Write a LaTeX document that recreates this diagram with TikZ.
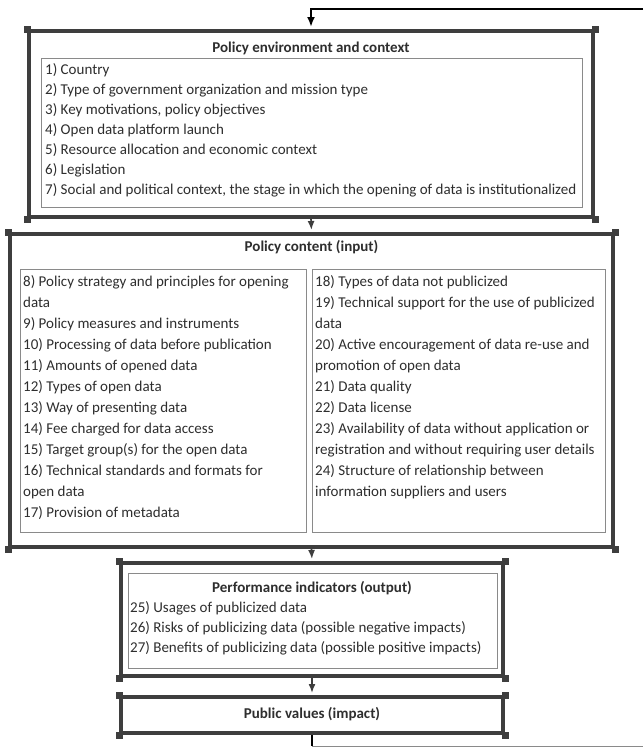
\documentclass[tikz,border=0pt]{standalone}
\usepackage{fontspec}
\setmainfont{Carlito}
\usepackage{tikz}
\usetikzlibrary{positioning, shapes, arrows, arrows.meta}

\definecolor{framegray}{HTML}{3E3E3E}
\definecolor{boxgray}{HTML}{8A8A8A}
\definecolor{textgray}{HTML}{2E2E2E}

\tikzset{
  frame/.style={draw=framegray, line width=4pt, rectangle, inner sep=0pt},
  listbox/.style={draw=boxgray, line width=0.9pt, rectangle, inner sep=0pt},
  titletext/.style={font=\bfseries\fontsize{15}{20}\selectfont, text=textgray, inner sep=0pt},
  itemtext/.style={align=left, font=\fontsize{15}{20}\selectfont, text=textgray, inner sep=0pt, anchor=north west},
  flow/.style={draw=framegray, line width=1.6pt, -{Latex[length=9pt,width=7pt]}, shorten >=2pt},
}

\begin{document}
\begin{tikzpicture}[x=1pt, y=-1pt]
      \useasboundingbox[fill=white] (0,0) rectangle (643,747);

      % policy environment
      \node [frame, minimum width=564pt, minimum height=186pt] (envframe) at (311,124) {};
      \node [titletext] (envtitle) at (311,48) {Policy environment and context};
      \node [listbox, minimum width=541pt, minimum height=149pt] (envlist) at (311.5,132.5) {};
      \node [itemtext] (envitems) at (45,63.5) {1) Country\\
        2) Type of government organization and mission type\\
        3) Key motivations, policy objectives\\
        4) Open data platform launch\\
        5) Resource allocation and economic context\\
        6) Legislation\\
        7) Social and political context, the stage in which the opening of data is institutionalized};

      % policy content
      \node [frame, minimum width=603pt, minimum height=313pt] (contentframe) at (311.5,390.5) {};
      \node [titletext] (contenttitle) at (311.5,247) {Policy content (input)};
      \node [listbox, minimum width=286pt, minimum height=263pt] (leftlist) at (163,400.5) {};
      \node [listbox, minimum width=293pt, minimum height=263pt] (rightlist) at (458.5,400.5) {};
      \node [itemtext, font=\fontsize{15}{21}\selectfont] (leftitems) at (23,275.5) {8) Policy strategy and principles for opening\\
        data\\
        9) Policy measures and instruments\\
        10) Processing of data before publication\\
        11) Amounts of opened data\\
        12) Types of open data\\
        13) Way of presenting data\\
        14) Fee charged for data access\\
        15) Target group(s) for the open data\\
        16) Technical standards and formats for\\
        open data\\
        17) Provision of metadata};
      \node [itemtext, font=\fontsize{15}{21}\selectfont] (rightitems) at (315,275.5) {18) Types of data not publicized\\
        19) Technical support for the use of publicized\\
        data\\
        20) Active encouragement of data re-use and\\
        promotion of open data\\
        21) Data quality\\
        22) Data license\\
        23) Availability of data without application or\\
        registration and without requiring user details\\
        24) Structure of relationship between\\
        information suppliers and users};

      % performance indicators
      \node [frame, minimum width=382pt, minimum height=113pt] (perfframe) at (312,619.5) {};
      \node [listbox, minimum width=369pt, minimum height=95pt] (perflist) at (312.5,620.5) {};
      \node [titletext] (perftitle) at (312,588) {Performance indicators (output)};
      \node [itemtext] (perfitems) at (130,601.5) {25) Usages of publicized data\\
        26) Risks of publicizing data (possible negative impacts)\\
        27) Benefits of publicizing data (possible positive impacts)};

      % public values
      \node [frame, minimum width=382pt, minimum height=36pt] (valueframe) at (312,715) {};
      \node [titletext] (valuetitle) at (312,714) {Public values (impact)};

      % corner nubs
      \foreach \f in {envframe,contentframe,perfframe,valueframe}
        \foreach \c in {north west,north east,south west,south east}
          \fill [framegray] ([shift={(-3.5pt,-3.5pt)}]\f.\c) rectangle +(7pt,7pt);

      % flow between the boxes
      \draw [flow] (envframe.south) -- (contentframe.north);
      \draw [flow] (contentframe.south) -- (perfframe.north);
      \draw [flow] (perfframe.south) -- (valueframe.north);

      % feedback loop
      \coordinate (loopin) at (643,9);
      \coordinate (loopturn) at (312,746);
      \coordinate (loopout) at (643,746);
      \draw [black, line width=2.4pt, -{Latex[length=10pt,width=8pt]}, shorten >=2pt] (loopin) -| (envframe.north);
      \draw [black, line width=2pt] (valueframe.south) -- (loopturn);
      \draw [boxgray, line width=0.9pt] (loopturn) -- (loopout);

\end{tikzpicture}
\end{document}
